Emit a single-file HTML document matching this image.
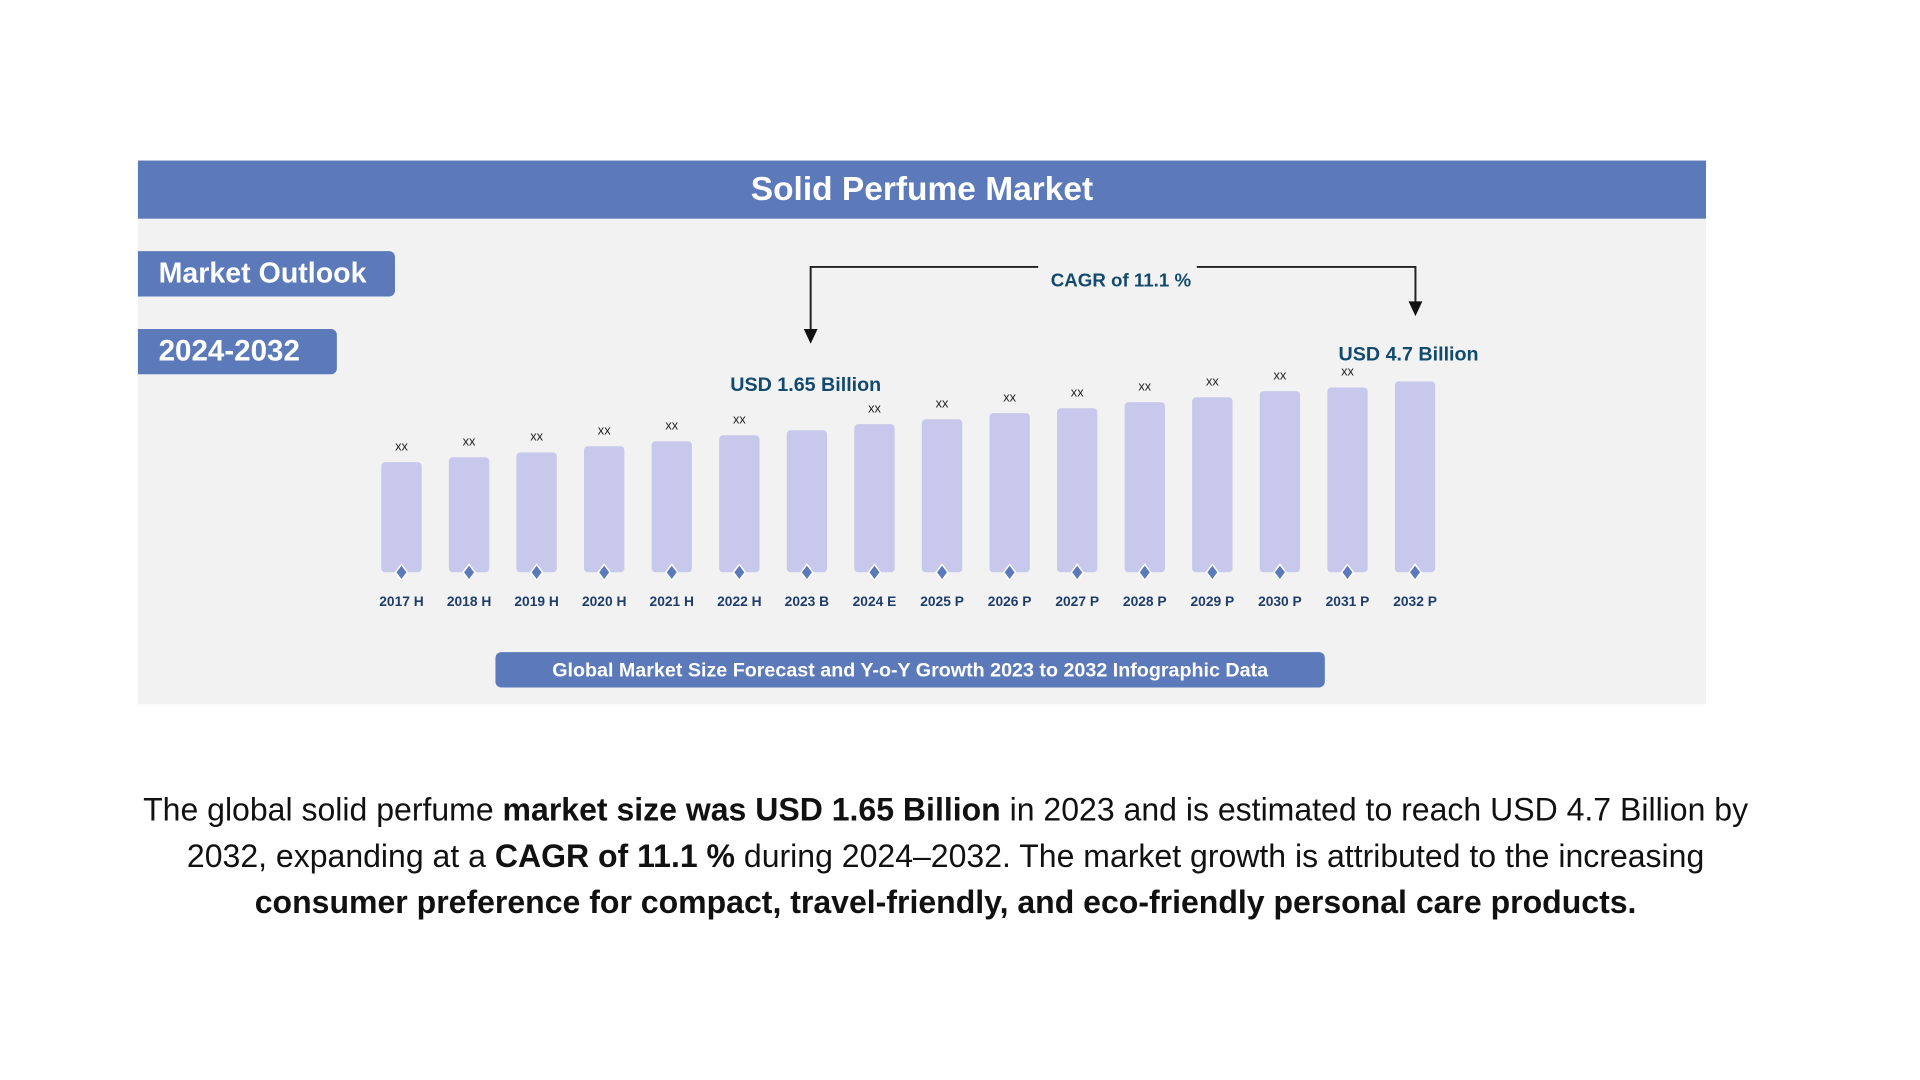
<!DOCTYPE html>
<html><head><meta charset="utf-8">
<style>
html,body{margin:0;padding:0;background:#fff;width:1920px;height:1080px;overflow:hidden;font-family:"Liberation Sans",sans-serif}
#wrap{position:absolute;left:0;top:0;width:1920px;height:1080px;transform:scale(0.985);transform-origin:0 0}
#panel{position:absolute;left:140px;top:163px;width:1592px;height:552px;background:#f2f2f2}
#titlebar{position:absolute;left:140px;top:163px;width:1592px;height:59px;background:#5c7aba;color:#fff;font-family:"Liberation Sans Narrow","Liberation Sans",sans-serif;font-weight:bold;font-size:34px;text-align:center;line-height:59px}
.pill{position:absolute;left:140px;background:#5c7aba;color:#fff;font-family:"Liberation Sans Narrow","Liberation Sans",sans-serif;font-weight:bold;border-radius:0 6px 6px 0;padding-left:21px;box-sizing:border-box}
#para{position:absolute;left:0;top:799px;width:1920px;text-align:center;font-size:32.5px;line-height:47px;color:#111;white-space:nowrap}
#para b{font-weight:bold}
</style></head><body>
<div id="wrap">
<div id="panel"></div>
<div id="titlebar">Solid Perfume Market</div>
<div class="pill" style="top:255px;width:261px;height:46px;line-height:46px;font-size:29px">Market Outlook</div>
<div class="pill" style="top:334px;width:202px;height:46px;line-height:46px;font-size:30px">2024-2032</div>
<svg id="chart" width="1920" height="1080" style="position:absolute;left:0;top:0">
<g id="cagr">
<polyline points="1054,271 823,271 823,336" fill="none" stroke="#222" stroke-width="2"/>
<polygon points="816,334 830,334 823,349" fill="#111"/>
<polyline points="1215,271 1437,271 1437,308" fill="none" stroke="#222" stroke-width="2"/>
<polygon points="1430,306 1444,306 1437,321" fill="#111"/>
<text x="1138" y="291" text-anchor="middle" font-family="Liberation Sans Narrow, Liberation Sans, sans-serif" font-weight="bold" font-size="19" fill="#124a6e">CAGR of 11.1 %</text>
</g>
<g id="bars"></g>
<text x="818" y="397" text-anchor="middle" font-family="Liberation Sans Narrow, Liberation Sans, sans-serif" font-weight="bold" font-size="20" fill="#124a6e">USD 1.65 Billion</text>
<text x="1430" y="366" text-anchor="middle" font-family="Liberation Sans Narrow, Liberation Sans, sans-serif" font-weight="bold" font-size="20" fill="#124a6e">USD 4.7 Billion</text>
<rect x="503" y="662" width="842" height="36" rx="6" fill="#5c7aba"/>
<text x="924" y="687" text-anchor="middle" font-family="Liberation Sans Narrow, Liberation Sans, sans-serif" font-weight="bold" font-size="20" fill="#fff">Global Market Size Forecast and Y-o-Y Growth 2023 to 2032 Infographic Data</text>
</svg>
<div id="para">The global solid perfume <b>market size was USD 1.65 Billion</b> in 2023 and is estimated to reach USD 4.7 Billion by<br>2032, expanding at a <b>CAGR of 11.1 %</b> during 2024–2032. The market growth is attributed to the increasing<br><b>consumer preference for compact, travel-friendly, and eco-friendly personal care products.</b></div>
</div>
<script>
const categories=["2017 H","2018 H","2019 H","2020 H","2021 H","2022 H","2023 B","2024 E","2025 P","2026 P","2027 P","2028 P","2029 P","2030 P","2031 P","2032 P"];
const values=[90,94,98,103,107,112,116,121,125,130,134,139,143,148,151,156];
const valueLabels=["xx","xx","xx","xx","xx","xx","","xx","xx","xx","xx","xx","xx","xx","xx",""];
const NS="http://www.w3.org/2000/svg";
const baseY=581, x0=407.6, step=68.6, bw=41, k=1.2427;
function xPos(i){return x0+i*step;}
function yPos(v){return baseY-v*k;}
const g=document.getElementById('bars');
function mk(t,a){const e=document.createElementNS(NS,t);for(const p in a)e.setAttribute(p,a[p]);return e;}
categories.forEach((c,i)=>{
  const cx=xPos(i), top=yPos(values[i]);
  const r=mk('rect',{x:cx-bw/2,y:top,width:bw,height:baseY-top,rx:4,fill:'#c8c8ec'});
  
  
  g.appendChild(r);
  const d=mk('path',{d:`M${cx},${baseY-8} L${cx+6},${baseY} L${cx},${baseY+8} L${cx-6},${baseY} Z`,fill:'#5c7aba',stroke:'#fff','stroke-width':1.5});
  
  
  g.appendChild(d);
  if(valueLabels[i]){
    const t=mk('text',{x:cx,y:top-12,'text-anchor':'middle','font-size':13,fill:'#222','font-family':'Liberation Sans Narrow, Liberation Sans, sans-serif'});
    t.textContent=valueLabels[i];
    
    
    g.appendChild(t);
  }
  const l=mk('text',{x:cx,y:615,'text-anchor':'middle','font-size':14,'font-weight':'bold',fill:'#1f3d6b','font-family':'Liberation Sans, sans-serif'});
  l.textContent=c;
  
  
  g.appendChild(l);
});
</script>
</body></html>
